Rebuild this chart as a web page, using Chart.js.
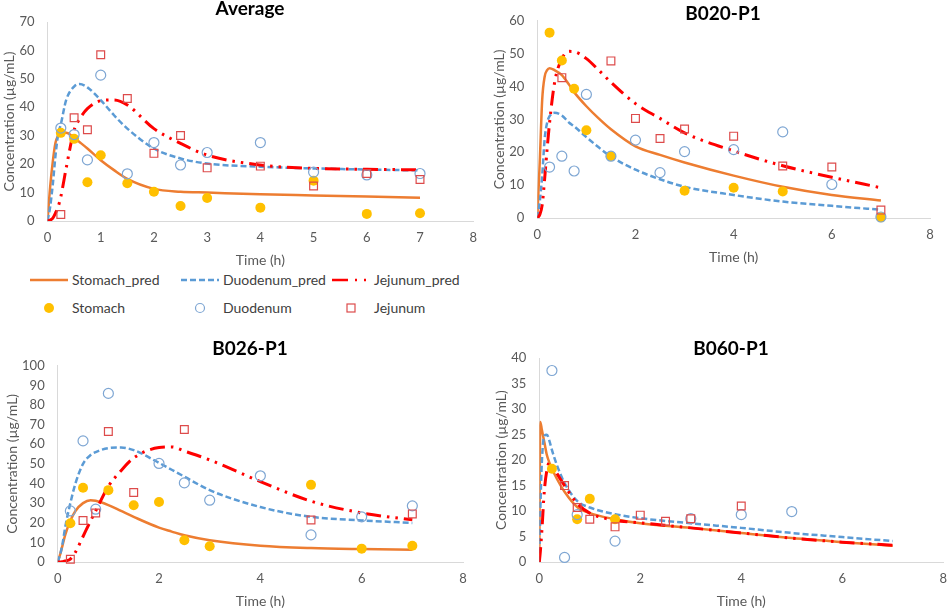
<!DOCTYPE html>
<html lang="en">
<head>
<meta charset="UTF-8">
<title>Concentration - time profiles</title>
<script src="https://cdn.jsdelivr.net/npm/chart.js"></script>
<style>
    body { margin: 0; background: #fff; width: 948px; height: 611px; overflow: hidden; position: relative; font-family: Lato, sans-serif; }
    canvas { position: absolute; }
    .legend-item { position: absolute; font-size: 14px; color: #404040; line-height: 18px; white-space: nowrap; }
    .legend-item svg { position: absolute; top: 0; }
</style>
</head>
<body>
<canvas id="avg" width="486" height="269" style="left:0;top:0"></canvas>
<canvas id="b020" width="458" height="266" style="left:490px;top:0"></canvas>
<canvas id="b026" width="477" height="280" style="left:3px;top:330px"></canvas>
<canvas id="b060" width="464" height="280" style="left:492px;top:330px"></canvas>
<div id="legend"></div>
<script>
// series names, in the order of the legend
const seriesNames = ['Stomach_pred', 'Duodenum_pred', 'Jejunum_pred', 'Stomach', 'Duodenum', 'Jejunum'];

// sampling times of the measured points (h)
const obsTimes = [0.25, 0.5, 0.75, 1, 1.5, 2, 2.5, 3, 4, 5, 6, 7];

// Average
const avgPredTimes    = [0, 0.05, 0.1, 0.15, 0.2, 0.25, 0.35, 0.5, 0.6, 0.75, 1, 1.25, 1.5, 2, 2.5, 3, 4, 5, 6, 7];
const avgStomachPred  = [0, 12, 21, 27.5, 30, 31, 31, 29.3, 27.8, 25.5, 21.4, 17.9, 14.8, 11.3, 10.3, 10.0, 9.4, 9.0, 8.6, 8.2];
const avgDuodenumPred = [0, 5, 13, 23, 30.5, 34, 42.5, 47.3, 48.2, 47, 42.5, 37.2, 32.5, 25.5, 22, 20.2, 19.1, 18.5, 18.1, 17.8];
const avgJejunumPred  = [0, 0.3, 1, 2.8, 5, 8.5, 18.5, 32, 35.8, 39.5, 42.3, 42.6, 40.8, 32.5, 27.3, 23.2, 19.7, 18.5, 18.2, 18.0];
const avgStomach  = [31.0, 28.9, 13.6, 23.1, 13.3, 10.3, 5.3, 8.1, 4.7, 14.2, 2.5, 2.7];
const avgDuodenum = [32.7, 30.4, 21.5, 51.3, 16.6, 27.6, 19.7, 24.1, 27.6, 17.2, 16.2, 16.7];
const avgJejunum  = [2.3, 36.3, 32.1, 58.5, 43.1, 23.8, 30.1, 18.7, 19.3, 12.3, 16.7, 14.6];

// B020-P1
const b020PredTimes    = [0, 0.05, 0.1, 0.15, 0.2, 0.25, 0.35, 0.5, 0.65, 0.75, 1, 1.25, 1.5, 2, 2.5, 3, 4, 5, 6, 7];
const b020StomachPred  = [0, 17, 36, 43, 45, 45.6, 45, 43.5, 40.5, 38.3, 34, 30.3, 27, 21.8, 19.2, 16.9, 12.9, 9.5, 7.0, 5.3];
const b020DuodenumPred = [0, 5, 13, 24, 29, 31, 32, 31.2, 29, 27.9, 24.6, 21.5, 18.7, 14.7, 11.8, 9.5, 7.0, 5.0, 3.7, 2.5];
const b020JejunumPred  = [0, 1, 4, 12, 21, 29, 41, 48.5, 50.7, 50.6, 48.5, 45, 41.3, 34.8, 30.3, 25.9, 20.4, 15.9, 12.4, 9.2];
const b020Stomach  = [56.4, 47.9, 39.3, 26.7, 18.8, null, null, 8.3, 9.2, 8.1, null, 0.2];
const b020Duodenum = [15.5, 18.8, 14.3, 37.6, 18.8, 23.7, 13.8, 20.2, 20.8, 26.2, 10.2, 0.3];
const b020Jejunum  = [null, 42.7, null, null, 47.8, 30.3, 24.2, 27.1, 24.9, 15.8, 15.5, 2.4];

// B026-P1
const b026PredTimes    = [0, 0.05, 0.1, 0.15, 0.25, 0.35, 0.5, 0.65, 0.75, 1, 1.25, 1.5, 2, 2.25, 2.5, 3, 4, 5, 6, 7];
const b026StomachPred  = [0, 4, 9, 14, 21, 26, 30, 31.5, 31.2, 29, 26, 23, 17.5, 15.5, 13.6, 11.1, 8.3, 7.1, 6.6, 6.3];
const b026DuodenumPred = [0, 4, 10, 18, 30, 40, 50, 54.5, 56, 58, 58.3, 57, 50.5, 47, 43.5, 36.6, 28, 23, 21.2, 19.9];
const b026JejunumPred  = [0, 0, 0.2, 0.5, 1.5, 5, 13, 21, 26, 38.5, 46.5, 53, 58.3, 58.6, 56.5, 52, 41, 31, 25, 21.5];
const b026Stomach  = [19.7, 37.8, null, 36.6, 28.9, 30.6, 11.1, 8.0, null, 39.3, 6.8, 8.3];
const b026Duodenum = [26.0, 61.7, 26.9, 85.9, null, 50.2, 40.3, 31.5, 43.9, 13.8, 23.0, 28.6];
const b026Jejunum  = [1.4, 21.1, 25.0, 66.5, 35.4, null, 67.5, null, null, 21.4, null, 24.5];

// B060-P1
const b060PredTimes    = [0, 0.02, 0.05, 0.1, 0.15, 0.2, 0.25, 0.35, 0.5, 0.75, 1, 1.5, 2, 3, 4, 5, 6, 7];
const b060StomachPred  = [0, 27.5, 26, 23.5, 21, 19.5, 18.3, 16.3, 13.8, 10.8, 9.6, 8.4, 7.6, 6.7, 5.7, 4.7, 3.9, 3.2];
const b060DuodenumPred = [0, 10, 19.5, 24.8, 25, 23.8, 22, 19, 15.5, 12, 10.7, 9.4, 8.6, 7.6, 6.7, 5.7, 4.9, 4.1];
const b060JejunumPred  = [0, 2, 6, 14, 18, 19.5, 19.3, 17.4, 15, 11.5, 9.6, 8.2, 7.7, 6.7, 5.7, 4.7, 3.9, 3.3];
const b060Stomach  = [18.3, null, 8.4, 12.4, 8.4, null, null, null, null, null, null, null];
const b060Duodenum = [37.6, 0.9, 9.3, null, 4.1, null, null, 8.5, 9.3, 9.9, null, null];
const b060Jejunum  = [null, 15.0, 10.7, 8.4, 6.9, 9.2, 8.0, 8.5, 11.0, null, null, null];

const ORANGE = '#ED7D31', BLUE = '#5B9BD5', RED = '#FF0000';
const YELLOW = '#FFC000', LIGHTBLUE = '#7EA6D3', PINK = '#DD4B4B';
const GREY = '#595959';
const BLUE_DASH = [6, 3];
const RED_DASH = [15, 6, 2.5, 6, 2.5, 6];

// draws the panel heading where Excel puts it (centred on the whole chart box)
const panelTitle = {
    id: 'panelTitle',
    afterDraw(chart, args, opts) {
        const ctx = chart.ctx;
        ctx.save();
        ctx.font = 'bold 19px Lato';
        ctx.fillStyle = '#000';
        ctx.textAlign = 'center';
        ctx.textBaseline = 'middle';
        ctx.fillText(opts.text, opts.x, opts.y);
        ctx.restore();
    }
};

function makePanel(id, cfg) {
    const curve = vals => cfg.times.map((t, i) => ({x: t, y: vals[i]}));
    const points = vals => obsTimes.map((t, i) => ({x: t, y: vals[i]})).filter(p => p.y !== null);
    const line = {showLine: true, pointRadius: 0, borderWidth: 2.5, cubicInterpolationMode: 'monotone', fill: false};
    new Chart(document.getElementById(id), {
        type: 'scatter',
        data: {
            datasets: [
                {...line, label: seriesNames[0], data: curve(cfg.sp), borderColor: ORANGE, order: 5},
                {...line, label: seriesNames[1], data: curve(cfg.dp), borderColor: BLUE, borderDash: BLUE_DASH, order: 4},
                {...line, label: seriesNames[2], data: curve(cfg.jp), borderColor: RED, borderWidth: 3, borderDash: RED_DASH, order: 3},
                {label: seriesNames[3], data: points(cfg.s), pointStyle: 'circle', pointRadius: 5, backgroundColor: YELLOW, borderColor: YELLOW, borderWidth: 0, clip: false, order: 2},
                {label: seriesNames[4], data: points(cfg.d), pointStyle: 'circle', pointRadius: 5, backgroundColor: 'rgba(0,0,0,0)', borderColor: LIGHTBLUE, borderWidth: 1.2, clip: false, order: 1},
                {label: seriesNames[5], data: points(cfg.j), pointStyle: 'rect', pointRadius: 5.5, backgroundColor: 'rgba(0,0,0,0)', borderColor: PINK, borderWidth: 1.2, clip: false, order: 0}
            ]
        },
        options: {
            responsive: false,
            animation: false,
            layout: {padding: {top: cfg.top, right: cfg.right, left: 0, bottom: 0}},
            plugins: {
                legend: {display: false},
                tooltip: {enabled: false},
                panelTitle: {text: cfg.title, x: cfg.tx, y: cfg.ty}
            },
            scales: {
                x: {
                    type: 'linear', min: 0, max: 8,
                    ticks: {stepSize: cfg.xStep, autoSkip: false, maxRotation: 0, padding: 9, color: GREY, font: {family: 'Lato', size: 13}},
                    grid: {display: false, drawTicks: false},
                    border: {display: true, color: '#D9D9D9', width: 1},
                    title: {display: true, text: 'Time (h)', color: GREY, font: {family: 'Lato', size: 14}, padding: {top: 0, bottom: 0}},
                    afterFit: s => { s.height = 48; }
                },
                y: {
                    min: 0, max: cfg.yMax,
                    ticks: {stepSize: cfg.yStep, padding: 13, color: GREY, font: {family: 'Lato', size: 13}},
                    grid: {display: false, drawTicks: false},
                    border: {display: true, color: '#D9D9D9', width: 1},
                    title: {display: true, text: 'Concentration (µg/mL)', color: GREY, font: {family: 'Lato', size: 14}, padding: {top: 1, bottom: 0}},
                    afterFit: s => { s.width = cfg.yw; }
                }
            }
        },
        plugins: [panelTitle]
    });
}

makePanel('avg', {title: 'Average', tx: 250, ty: 9, top: 22, right: 0, yw: 47.5, yMax: 70, yStep: 10, xStep: 1,
    times: avgPredTimes, sp: avgStomachPred, dp: avgDuodenumPred, jp: avgJejunumPred, s: avgStomach, d: avgDuodenum, j: avgJejunum});
makePanel('b020', {title: 'B020-P1', tx: 233, ty: 14, top: 17.3, right: 18, yw: 47.3, yMax: 60, yStep: 10, xStep: 2,
    times: b020PredTimes, sp: b020StomachPred, dp: b020DuodenumPred, jp: b020JejunumPred, s: b020Stomach, d: b020Duodenum, j: b020Jejunum});
makePanel('b026', {title: 'B026-P1', tx: 247, ty: 19, top: 35.7, right: 17, yw: 54.7, yMax: 100, yStep: 10, xStep: 2,
    times: b026PredTimes, sp: b026StomachPred, dp: b026DuodenumPred, jp: b026JejunumPred, s: b026Stomach, d: b026Duodenum, j: b026Jejunum});
makePanel('b060', {title: 'B060-P1', tx: 239, ty: 19, top: 28.3, right: 0, yw: 47.3, yMax: 40, yStep: 5, xStep: 2,
    times: b060PredTimes, sp: b060StomachPred, dp: b060DuodenumPred, jp: b060JejunumPred, s: b060Stomach, d: b060Duodenum, j: b060Jejunum});

// shared legend under the Average panel: 3 columns, lines on the first row, markers on the second
const legendCols = [30, 181, 332];
const legendSamples = [
    '<line x1="0" y1="9" x2="38" y2="9" stroke="' + ORANGE + '" stroke-width="2.5"/>',
    '<line x1="0" y1="9" x2="38" y2="9" stroke="' + BLUE + '" stroke-width="2.5" stroke-dasharray="' + BLUE_DASH.join(' ') + '"/>',
    '<line x1="0" y1="9" x2="38" y2="9" stroke="' + RED + '" stroke-width="2.5" stroke-dasharray="16 7 2 7 2 7"/>',
    '<circle cx="19" cy="9" r="5" fill="' + YELLOW + '"/>',
    '<circle cx="19" cy="9" r="4.5" fill="none" stroke="' + LIGHTBLUE + '" stroke-width="1.2"/>',
    '<rect x="15" y="5" width="8" height="8" fill="none" stroke="' + PINK + '" stroke-width="1.2"/>'
];
const legend = document.getElementById('legend');
seriesNames.forEach((name, i) => {
    const item = document.createElement('div');
    item.className = 'legend-item';
    item.style.left = legendCols[i % 3] + 'px';
    item.style.top = (i < 3 ? 271 : 299) + 'px';
    item.innerHTML = '<svg width="38" height="18">' + legendSamples[i] + '</svg>' +
        '<span style="position:absolute;left:42px;top:0">' + name + '</span>';
    legend.appendChild(item);
});
</script>
</body>
</html>
